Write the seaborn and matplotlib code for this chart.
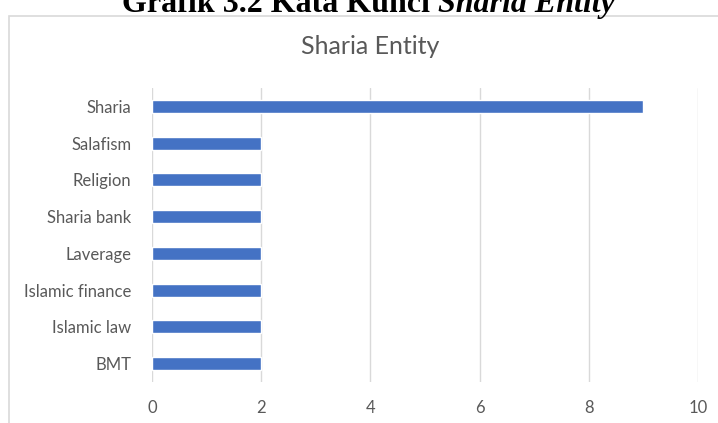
import matplotlib
matplotlib.use("Agg")
import matplotlib.pyplot as plt
import seaborn as sns
import pandas as pd
from matplotlib.patches import Rectangle

categories = ["Sharia", "Salafism", "Religion", "Sharia bank", "Laverage",
              "Islamic finance", "Islamic law", "BMT"]
values = [9, 2, 2, 2, 2, 2, 2, 2]
x_ticks = [0, 2, 4, 6, 8, 10]

df = pd.DataFrame({"keyword": categories, "count": values})

sns.set_theme(style="white")
plt.rcParams["font.family"] = ["Lato", "DejaVu Sans"]

W, H = 718, 423
fig = plt.figure(figsize=(W / 100, H / 100), dpi=100)

# chart frame (extends beyond the cropped image)
fig.patches.append(Rectangle((9 / W, -0.1), 1.2, 1 - 16 / H + 0.1,
                             transform=fig.transFigure, fill=False,
                             edgecolor="#d9d9d9", linewidth=1.2))

ax = fig.add_axes([152 / W, 1 - 382 / H, 546 / W, 294 / H])
sns.barplot(data=df, x="count", y="keyword", order=categories,
            color="#4472C4", saturation=1, width=0.35, ax=ax, orient="h")

ax.set_xlim(0, 10)
ax.set_ylim(len(categories) - 0.5, -0.5)
ax.set_xticks(x_ticks)
ax.set_xticklabels([str(t) for t in x_ticks])
ax.set_xlabel("")
ax.set_ylabel("")
for s in ax.spines.values():
    s.set_visible(False)
ax.grid(axis="x", color="#d9d9d9", linewidth=1)
ax.set_axisbelow(True)
ax.tick_params(axis="both", length=0, labelsize=12, colors="#595959")
ax.tick_params(axis="y", pad=15)
ax.tick_params(axis="x", pad=13)

fig.text(370 / W, 1 - 47 / H, "Sharia Entity", ha="center", va="center",
         fontsize=18, color="#595959")

# document caption, cropped at the top as in the reference
fig.text(438 / W, 1 - 12 / H, "Grafik 3.2 Kata Kunci ", ha="right",
         va="baseline", fontsize=23, fontweight="bold",
         family="Liberation Serif", color="black")
fig.text(438 / W, 1 - 12 / H, "Sharia Entity", ha="left",
         va="baseline", fontsize=23, fontweight="bold", style="italic",
         family="Liberation Serif", color="black")

fig.savefig("out.png", dpi=100)
